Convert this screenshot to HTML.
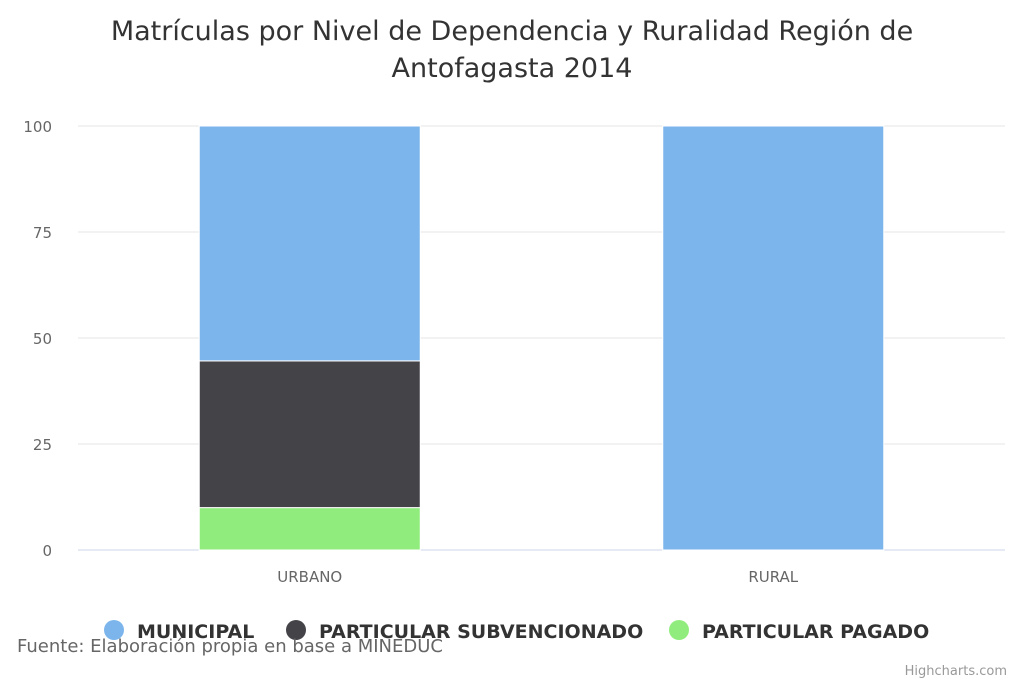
<!DOCTYPE html>
<html><head><meta charset="utf-8"><style>
html,body{margin:0;padding:0;background:#fff;}
svg{display:block;font-family:"DejaVu Sans","Liberation Sans",sans-serif;}
</style></head><body>
<svg id="chart" width="1024" height="683" viewBox="0 0 1024 683">
<rect width="1024" height="683" fill="#fff"/>
<text x="512" y="40" text-anchor="middle" font-size="27" fill="#333">Matrículas por Nivel de Dependencia y Ruralidad Región de</text>
<text x="512" y="77" text-anchor="middle" font-size="27" fill="#333">Antofagasta 2014</text>
<g id="grid"></g><g id="bars"></g><g id="xlabels"></g>
<g>
<g><circle cx="114" cy="630" r="10" fill="#7cb5ec"/><text x="137" y="638" font-size="19" font-weight="bold" fill="#333">MUNICIPAL</text></g>
<g><circle cx="296" cy="630" r="10" fill="#434348"/><text x="319" y="638" font-size="19" font-weight="bold" fill="#333">PARTICULAR SUBVENCIONADO</text></g>
<g><circle cx="679" cy="630" r="10" fill="#90ed7d"/><text x="702" y="638" font-size="19" font-weight="bold" fill="#333">PARTICULAR PAGADO</text></g>
</g>
<text x="17" y="652" font-size="18" fill="#666">Fuente: Elaboración propia en base a MINEDUC</text>
<text x="1007" y="675" text-anchor="end" font-size="13" fill="#999">Highcharts.com</text>
</svg>
<script>
const categories=["URBANO","RURAL"];
const municipal=[55.4,100];
const subvencionado=[34.6,0];
const pagado=[10,0];
const yTicks=[0,25,50,75,100];
const NS="http://www.w3.org/2000/svg";
const X0=78,X1=1005,Y0=550,Y1=126;
const y=v=>Y0-(v/100)*(Y0-Y1);
const bw=(X1-X0)/categories.length;
const xc=i=>X0+bw*(i+0.5);
function mk(t,a,p){const e=document.createElementNS(NS,t);for(const k in a)e.setAttribute(k,a[k]);p.appendChild(e);return e;}
const grid=document.getElementById('grid');
yTicks.forEach(t=>{
 const l=mk('line',{x1:X0,x2:X1,y1:y(t),y2:y(t),stroke:t===0?'#ccd6eb':'#e6e6e6','stroke-width':1},grid);
 
 
 const tx=mk('text',{x:52,y:y(t)+6,'text-anchor':'end','font-size':15,fill:'#666'},grid);
 tx.textContent=t;
 
 
});
const bars=document.getElementById('bars');
const series=[[pagado,'#90ed7d','pagado'],[subvencionado,'#434348','subvencionado'],[municipal,'#7cb5ec','municipal']];
const W=221;
categories.forEach((c,i)=>{
 let base=0;
 series.forEach(([d,col,n])=>{
  const v=d[i];
  if(v>0){
   const r=mk('rect',{x:xc(i)-W/2,y:y(base+v),width:W,height:y(base)-y(base+v),fill:col,stroke:'#fff','stroke-width':1},bars);
   
   
  }
  base+=v;
 });
 const t=mk('text',{x:xc(i),y:582,'text-anchor':'middle','font-size':15,fill:'#666'},document.getElementById('xlabels'));
 t.textContent=c;
 
 
});
</script>
</body></html>
